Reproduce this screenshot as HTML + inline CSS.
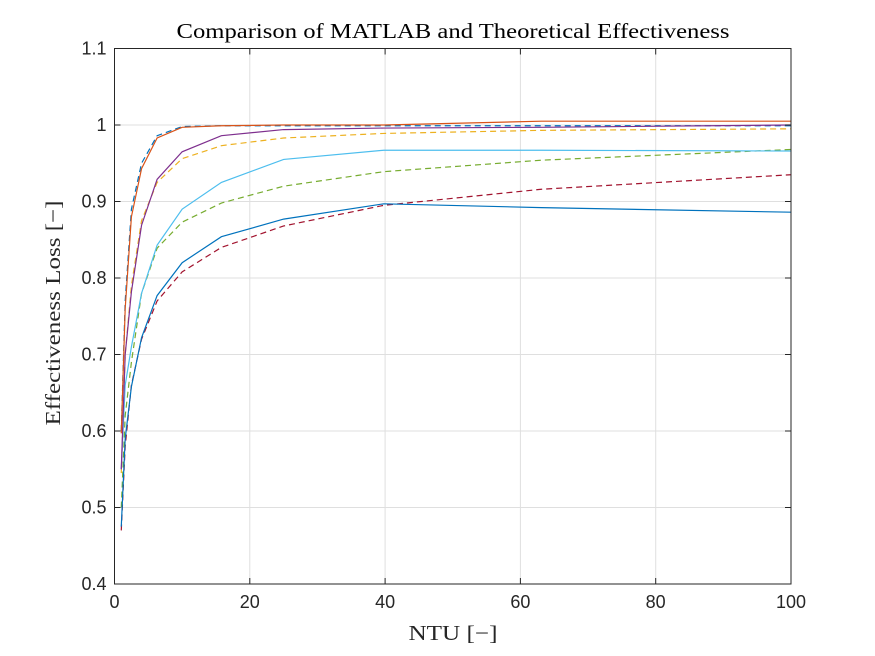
<!DOCTYPE html>
<html><head><meta charset="utf-8"><style>
body{margin:0;background:#fff;}
svg{display:block;font-family:"Liberation Sans",sans-serif;}
</style></head><body>
<svg id="chart" width="875" height="656">
<rect x="0" y="0" width="875" height="656" fill="#fff"/>
<g id="grid"></g>
<g id="series"></g>
<rect x="114.5" y="48.5" width="676.5" height="535.5" fill="none" stroke="#262626" stroke-width="1"/>
<g id="ticks"></g>
<text x="453" y="38" text-anchor="middle" textLength="553" lengthAdjust="spacingAndGlyphs" font-family="'Liberation Serif',serif" font-size="21" fill="#000">Comparison of MATLAB and Theoretical Effectiveness</text>
<text x="453" y="640" text-anchor="middle" textLength="89" lengthAdjust="spacingAndGlyphs" font-family="'Liberation Serif',serif" font-size="21" fill="#262626">NTU [−]</text>
<text transform="translate(60,313) rotate(-90)" text-anchor="middle" textLength="225" lengthAdjust="spacingAndGlyphs" font-family="'Liberation Serif',serif" font-size="21" fill="#262626">Effectiveness Loss [−]</text>
</svg>
<script>
const ntu = [1, 1.58, 2.5, 4, 6.3, 10, 15.8, 25, 39.8, 63.1, 100];
const xTicks = [0, 20, 40, 60, 80, 100];
const yTicks = [0.4, 0.5, 0.6, 0.7, 0.8, 0.9, 1.0, 1.1];
const yTickLabels = ["0.4","0.5","0.6","0.7","0.8","0.9","1","1.1"];
const sBlue = [0.475, 0.59, 0.658, 0.722, 0.777, 0.820, 0.854, 0.877, 0.897, 0.892, 0.886];
const sLightBlue = [0.55, 0.66, 0.71, 0.78, 0.843, 0.890, 0.925, 0.955, 0.967, 0.967, 0.966];
const sPurple = [0.55, 0.70, 0.782, 0.869, 0.929, 0.965, 0.986, 0.994, 0.996, 0.997, 1.0];
const sOrange = [0.597, 0.76, 0.880, 0.943, 0.983, 0.997, 0.999, 1.0, 1.0, 1.005, 1.005];
const dBlue = [0.60, 0.77, 0.89, 0.95, 0.986, 0.998, 0.999, 0.999, 0.999, 0.999, 0.999];
const dYellow = [0.545, 0.70, 0.79, 0.875, 0.925, 0.956, 0.973, 0.983, 0.989, 0.993, 0.995];
const dGreen = [0.50, 0.62, 0.69, 0.78, 0.839, 0.873, 0.898, 0.920, 0.939, 0.954, 0.968];
const dRed = [0.47, 0.58, 0.66, 0.72, 0.77, 0.808, 0.840, 0.868, 0.895, 0.916, 0.935];
const X0=114.5, X1=791, Y0=584, Y1=48.5;
const xs = v => X0 + (v-0)/(100-0)*(X1-X0);
const ys = v => Y0 - (v-0.4)/(1.1-0.4)*(Y0-Y1);
const NS="http://www.w3.org/2000/svg";
const grid=document.getElementById('grid'), ticks=document.getElementById('ticks'), ser=document.getElementById('series');
function mk(t,a,p){const e=document.createElementNS(NS,t);for(const k in a)e.setAttribute(k,a[k]);p.appendChild(e);return e;}
xTicks.forEach((t,i)=>{
  const x=xs(t);
  const g=mk('line',{x1:x,x2:x,y1:Y1,y2:Y0,stroke:'#dfdfdf','stroke-width':1},grid);
  
  
  const tk=mk('line',{x1:x,x2:x,y1:Y0,y2:Y0-6,stroke:'#262626'},ticks);
  
  
  const tk2=mk('line',{x1:x,x2:x,y1:Y1,y2:Y1+6,stroke:'#262626'},ticks);
  
  
  const l=mk('text',{x:x,y:Y0+24,'text-anchor':'middle','font-size':18,fill:'#262626'},ticks);
  l.textContent=String(t);
  
  
});
yTicks.forEach((t,i)=>{
  const y=ys(t);
  const g=mk('line',{x1:X0,x2:X1,y1:y,y2:y,stroke:'#dfdfdf','stroke-width':1},grid);
  
  
  const tk=mk('line',{x1:X0,x2:X0+6,y1:y,y2:y,stroke:'#262626'},ticks);
  
  
  const tk2=mk('line',{x1:X1,x2:X1-6,y1:y,y2:y,stroke:'#262626'},ticks);
  
  
  const l=mk('text',{x:X0-8,y:y+6,'text-anchor':'end','font-size':18,fill:'#262626'},ticks);
  l.textContent=yTickLabels[i];
  
  
});
function line(vals,color,dash,name){
  const pts=vals.map((v,i)=>xs(ntu[i]).toFixed(2)+','+ys(v).toFixed(2)).join(' ');
  const p=mk('polyline',{points:pts,fill:'none',stroke:color,'stroke-width':1.2},ser);
  if(dash)p.setAttribute('stroke-dasharray','6,4');
  
  
}
line(dRed,'#A2142F',true,'theoretical-red-dashed');
line(dGreen,'#77AC30',true,'theoretical-green-dashed');
line(dYellow,'#EDB120',true,'theoretical-yellow-dashed');
line(dBlue,'#0072BD',true,'theoretical-blue-dashed');
line(sBlue,'#0072BD',false,'matlab-blue-solid');
line(sLightBlue,'#4DBEEE',false,'matlab-lightblue-solid');
line(sPurple,'#7E2F8E',false,'matlab-purple-solid');
line(sOrange,'#D95319',false,'matlab-orange-solid');
</script>
</body></html>
